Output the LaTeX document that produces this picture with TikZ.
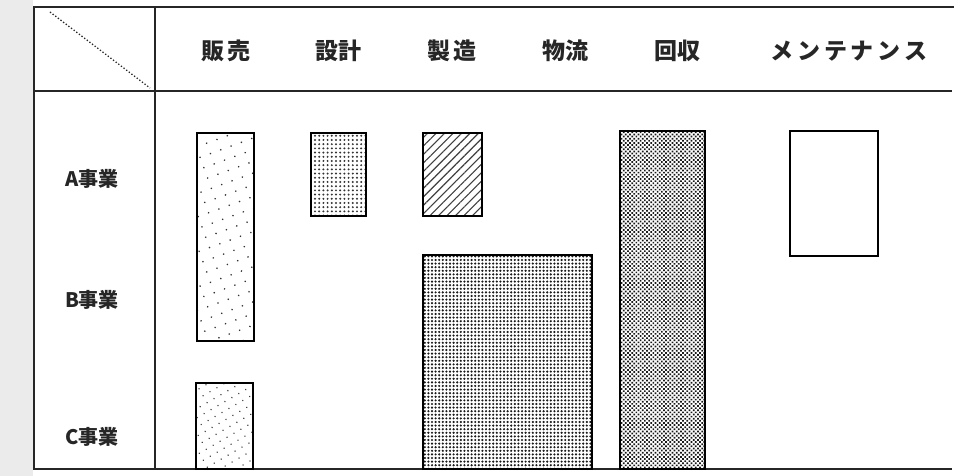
\documentclass[tikz,border=0pt]{standalone}
\usepackage{fontspec}
\newfontfamily\jpfont{Noto Sans CJK JP}
\usetikzlibrary{patterns,patterns.meta}
\begin{document}
\begin{tikzpicture}[x=1pt,y=-1pt,
  frame/.style={line width=1.6pt,black!85},
  bar/.style={draw=black,line width=1.4pt},
  head/.style={font=\jpfont\bfseries\fontsize{23}{23}\selectfont,text=black!85,anchor=center},
  rowlab/.style={font=\jpfont\bfseries\fontsize{20}{20}\selectfont,text=black!85,anchor=center}]
\useasboundingbox (0,0) rectangle (954,476);
\fill[black!8] (0,0) rectangle (33,476);
\fill[white] (33,0) rectangle (954,476);
% frame
\coordinate (tl) at (34,7);
\coordinate (tr) at (954,7);
\coordinate (bl) at (34,469);
\coordinate (br) at (952,469);
\coordinate (hl) at (34,91);
\coordinate (hr) at (952,91);
\coordinate (vt) at (155,7);
\coordinate (vb) at (155,469);
\draw[frame] (tr) -- (tl) -- (bl) -- (br);
\draw[frame,line width=1.3pt] (hl) -- (hr);
\draw[frame,line width=1.2pt] (vt) -- (vb);
\coordinate (d1) at (50,12);
\coordinate (d2) at (150,88);
\draw[dotted,line width=1.3pt,black!85] (d1) -- (d2);
% headers
\node[head] (h1) at (226,51) {販\,売};
\node[head] (h2) at (338,51) {設計};
\node[head] (h3) at (452,51) {製\,造};
\node[head] (h4) at (565,51) {物流};
\node[head] (h5) at (677,51) {回収};
\node[head] (h6) at (849,51) {メ\,ン\,テ\,ナ\,ン\,ス};
% rows
\node[rowlab] (r1) at (92,179) {A事業};
\node[rowlab] (r2) at (92,300) {B事業};
\node[rowlab] (r3) at (92,437) {C事業};
% boxes
\draw[bar,pattern={Dots[radius=0.9pt,distance=11pt,angle=20]},pattern color=black!80] (197,133) rectangle (254,341);
\draw[bar,pattern={Dots[radius=1.1pt,distance=4.2pt]},pattern color=black!80] (311,133) rectangle (366,216);
\draw[bar,pattern={Lines[distance=6pt,angle=45,line width=1.1pt]},pattern color=black!75] (423,133) rectangle (482,216);
\draw[bar,pattern={Dots[radius=1.2pt,distance=3.6pt]},pattern color=black!90] (423,255) rectangle (592,469);
\draw[bar,line width=2pt,pattern={Dots[radius=1.2pt,distance=3pt,angle=45]},pattern color=black!90] (620,131) rectangle (705,469);
\draw[bar] (790,131) rectangle (878,256);
\draw[bar,pattern={Dots[radius=0.8pt,distance=8pt,angle=30]},pattern color=black!75] (196,383) rectangle (253,469);
\end{tikzpicture}
\end{document}
